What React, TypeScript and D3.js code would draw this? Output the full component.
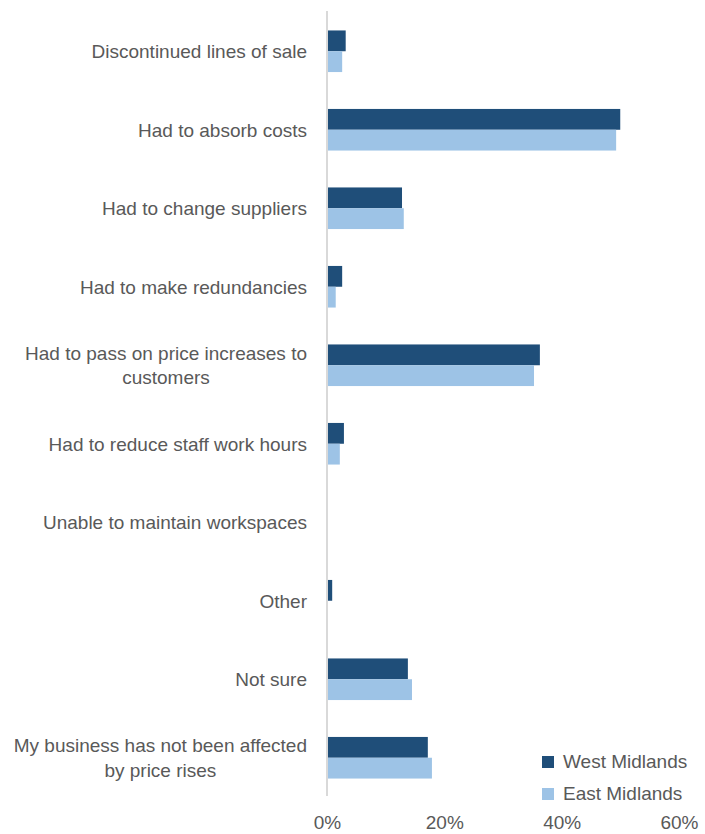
import React from "react";
import * as d3 from "d3";

const categories: string[][] = [
  ["Discontinued lines of sale"],
  ["Had to absorb costs"],
  ["Had to change suppliers"],
  ["Had to make redundancies"],
  ["Had to pass on price increases to", "customers"],
  ["Had to reduce staff work hours"],
  ["Unable to maintain workspaces"],
  ["Other"],
  ["Not sure"],
  ["My business has not been affected", "by price rises"],
];
const westMidlands: number[] = [3.1, 49.9, 12.7, 2.5, 36.2, 2.8, 0, 0.8, 13.7, 17.1];
const eastMidlands: number[] = [2.5, 49.2, 13.0, 1.4, 35.2, 2.1, 0, 0, 14.4, 17.8];
const seriesNames: string[] = ["West Midlands", "East Midlands"];
const tickValues: number[] = [0, 20, 40, 60];

const W = 705;
const H = 834;
const FONT = "'Liberation Sans', Arial, sans-serif";
const FS = 19;
const TEXT = "#595959";
const COLORS = ["#1f4e79", "#9dc3e6"];

let ctx: CanvasRenderingContext2D | null = null;
function measure(t: string): number {
  if (!ctx) {
    const c = document.createElement("canvas");
    ctx = c.getContext("2d");
  }
  if (!ctx) return t.length * FS * 0.5;
  ctx.font = `${FS}px ${FONT}`;
  return ctx.measureText(t).width;
}

export default function App() {
  const x = d3.scaleLinear().domain([0, 60]).range([327.5, 679.5]);
  const idx = categories.map((_, i) => String(i));
  const y = d3
    .scaleBand<string>()
    .domain(idx)
    .range([12, 797])
    .paddingInner(0.47)
    .paddingOuter(0.235);
  const bw = y.bandwidth() / 2;
  const labelRight = 307;

  return (
    <svg
      width={W}
      height={H}
      style={{ position: "absolute", left: 0, top: 0, background: "#fff" }}
      fontFamily={FONT}
    >
      {categories.map((lines, i) => {
        const y0 = y(String(i)) as number;
        const c = y0 + y.bandwidth() / 2;
        const widths = lines.map(measure);
        const maxW = Math.max(...widths);
        const cx = labelRight - maxW / 2;
        const lh = 24.5;
        const base = c + 6.8 - ((lines.length - 1) * lh) / 2;
        return (
          <g key={i}>
            <rect x={x(0)} y={y0} width={x(westMidlands[i]) - x(0)} height={bw} fill={COLORS[0]} />
            <rect x={x(0)} y={y0 + bw} width={x(eastMidlands[i]) - x(0)} height={bw} fill={COLORS[1]} />
            {lines.map((ln, j) => (
              <text
                key={j}
                x={cx}
                y={base + j * lh}
                textAnchor="middle"
                fontSize={FS}
                fill={TEXT}
              >
                {ln}
              </text>
            ))}
          </g>
        );
      })}
      <line x1={327} x2={327} y1={11} y2={796} stroke="#d9d9d9" strokeWidth={2} />
      {tickValues.map((t) => (
        <text key={t} x={x(t)} y={829} textAnchor="middle" fontSize={FS} fill={TEXT}>
          {t}%
        </text>
      ))}
      {seriesNames.map((s, i) => (
        <g key={s}>
          <rect x={542} y={756 + i * 32} width={12} height={12} fill={COLORS[i]} />
          <text x={563} y={768 + i * 32} fontSize={FS} fill={TEXT}>
            {s}
          </text>
        </g>
      ))}
    </svg>
  );
}
